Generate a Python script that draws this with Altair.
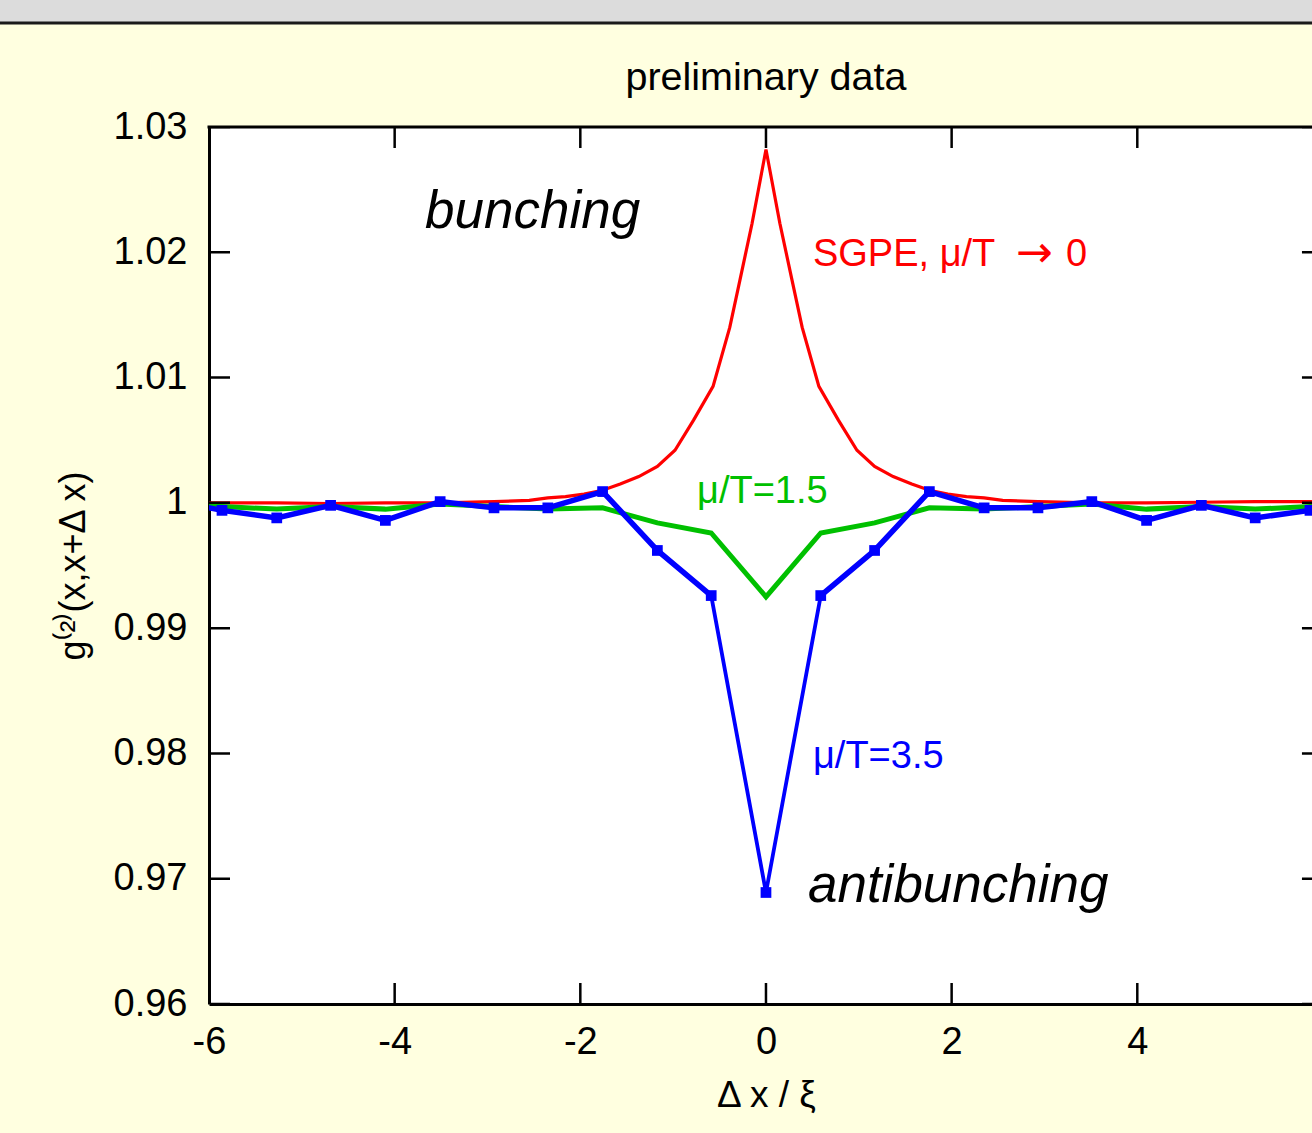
import altair as alt
import pandas as pd

FONT = "Liberation Sans"

# ---------------- data ----------------
x_ticks = [-6, -4, -2, 0, 2, 4, 6]
x_labels = [-6, -4, -2, 0, 2, 4]
y_ticks = [0.96, 0.97, 0.98, 0.99, 1.0, 1.01, 1.02, 1.03]
x_range = [-6, 5.882]
y_range = [0.96, 1.03]
x_full = [-6, 6]

red_x = [-6.0, -5.27, -4.69, -4.10, -3.51, -2.93, -2.55, -2.35, -2.16, -1.96,
         -1.76, -1.57, -1.37, -1.17, -0.98, -0.78, -0.57, -0.39, -0.28, -0.15,
         0.0,
         0.15, 0.28, 0.39, 0.57, 0.78, 0.98, 1.17, 1.37, 1.57, 1.76,
         1.96, 2.16, 2.35, 2.55, 2.93, 3.51, 4.10, 4.69, 5.27, 6.0]
red_y = [1.0000, 1.0000, 0.99995, 1.0000, 1.0000, 1.0001, 1.0002, 1.0004, 1.0005, 1.0007,
         1.0010, 1.0015, 1.0021, 1.0029, 1.0042, 1.0066, 1.0093, 1.0140, 1.0178, 1.0223,
         1.0282,
         1.0223, 1.0178, 1.0140, 1.0093, 1.0066, 1.0042, 1.0029, 1.0021, 1.0015, 1.0010,
         1.0007, 1.0005, 1.0004, 1.0002, 1.0001, 1.0000, 1.0000, 1.00005, 1.0001, 1.0001]

grid_x = [-6.45, -5.86, -5.27, -4.69, -4.10, -3.51, -2.93, -2.35, -1.76, -1.17, -0.59,
          0.0,
          0.59, 1.17, 1.76, 2.35, 2.93, 3.51, 4.10, 4.69, 5.27, 5.86, 6.45]
green_y = [0.9997, 0.9997, 0.9995, 0.9997, 0.9995, 0.9999, 0.9997, 0.9995, 0.9996, 0.9984, 0.9976,
           0.9925,
           0.9976, 0.9984, 0.9996, 0.9995, 0.9997, 0.9999, 0.9995, 0.9997, 0.9995, 0.9997, 0.9997]
blue_y = [1.0003, 0.9994, 0.9988, 0.9998, 0.9986, 1.0001, 0.9996, 0.9996, 1.0009, 0.9962, 0.9926,
          0.9689,
          0.9926, 0.9962, 1.0009, 0.9996, 0.9996, 1.0001, 0.9986, 0.9998, 0.9988, 0.9994, 1.0003]

title_text = ["preliminary data"]
title_x = [0.0]
title_y = [1.03295]

big_text = ["bunching", "antibunching"]
big_x = [-3.673, 0.452]
big_y = [1.0219, 0.96815]

small_text = ["SGPE, μ/T", "0", "μ/T=1.5", "μ/T=3.5"]
small_x = [0.506, 3.232, -0.743, 0.506]
small_y = [1.0189, 1.0189, 0.99995, 0.9788]
small_color = ["#ff0000", "#ff0000", "#00c000", "#0000ff"]

arrow_text = ["→"]
arrow_x = [2.89]
arrow_y = [1.0188]

# ---------------- scales / axes ----------------
xs = alt.Scale(domain=x_range, nice=False, zero=False)
ys = alt.Scale(domain=y_range, nice=False, zero=False)

x_axis = alt.Axis(
    values=x_labels, labelExpr="'' + datum.value", ticks=False, tickSize=0,
    grid=False, domain=True, domainColor="black", domainWidth=3, labelFlush=False,
    labelFont=FONT, labelFontSize=38, labelColor="black", labelPadding=19,
    title="Δ x / ξ", titleFont=FONT, titleFontSize=37, titleFontWeight="normal",
    titleColor="black", titleX=557, titleY=102, titleAlign="center",
    titleBaseline="alphabetic",
)
y_axis = alt.Axis(
    values=y_ticks, labelExpr="'' + datum.value", ticks=False, tickSize=0,
    grid=False, domain=True, domainColor="black", domainWidth=3, labelFlush=False,
    labelFont=FONT, labelFontSize=38, labelColor="black", labelPadding=22,
    labelBaseline="middle",
    title="g⁽²⁾(x,x+Δ x)", titleFont=FONT, titleFontSize=36, titleFontWeight="normal",
    titleColor="black", titleX=-136, titleY=438.5, titleAngle=270,
    titleAlign="center", titleBaseline="middle",
)


def X(field="x"):
    return alt.X(f"{field}:Q", scale=xs, axis=x_axis)


def Y(field="y"):
    return alt.Y(f"{field}:Q", scale=ys, axis=y_axis)


red_df = pd.DataFrame({"x": red_x, "y": red_y})
green_df = pd.DataFrame({"x": grid_x, "y": green_y})
blue_df = pd.DataFrame({"x": grid_x, "y": blue_y})

bottom_ticks = pd.DataFrame({"x": x_ticks, "y": [y_range[0]] * len(x_ticks)})
top_ticks = pd.DataFrame({"x": x_ticks, "y": [y_range[1]] * len(x_ticks)})
left_ticks = pd.DataFrame({"x": [x_full[0]] * len(y_ticks), "y": y_ticks})
right_ticks = pd.DataFrame({"x": [x_full[1]] * len(y_ticks), "y": y_ticks})
top_border = pd.DataFrame({"x": [x_full[0]], "x2": [x_full[1]], "y": [y_range[1]]})

title_df = pd.DataFrame({"x": title_x, "y": title_y, "t": title_text})
big_df = pd.DataFrame({"x": big_x, "y": big_y, "t": big_text})
small_df = pd.DataFrame({"x": small_x, "y": small_y, "t": small_text, "c": small_color})
arrow_df = pd.DataFrame({"x": arrow_x, "y": arrow_y, "t": arrow_text})

# ---------------- layers ----------------
band = alt.Chart(pd.DataFrame({"k": [0]})).mark_rect(color="#dcdcdc", clip=False).encode(
    x=alt.value(-209), x2=alt.value(1103), y=alt.value(-127), y2=alt.value(-105)
)
band_line = alt.Chart(pd.DataFrame({"k": [0]})).mark_rule(color="#1a1a1a", strokeWidth=3, clip=False).encode(
    x=alt.value(-209), x2=alt.value(1103), y=alt.value(-104)
)

red = alt.Chart(red_df).mark_line(color="#ff0000", strokeWidth=3.2, clip=True).encode(x=X(), y=Y())
green = alt.Chart(green_df).mark_line(color="#00c000", strokeWidth=5, clip=True).encode(x=X(), y=Y())

# blue: thick outer branches, thinner central dip
blue_outer = alt.Chart(blue_df).transform_filter(
    "abs(datum.x) >= 0.5"
).transform_calculate(side="datum.x < 0 ? 'L' : 'R'").mark_line(
    color="#0000ff", strokeWidth=5.5, clip=True
).encode(x=X(), y=Y(), detail="side:N")
blue_center = alt.Chart(blue_df).transform_filter(
    "abs(datum.x) <= 0.7"
).mark_line(color="#0000ff", strokeWidth=3.8, clip=True).encode(x=X(), y=Y())
blue_pts = alt.Chart(blue_df).mark_square(color="#0000ff", size=115, opacity=1, clip=True).encode(x=X(), y=Y())

tick_kw = dict(color="black", thickness=2.5, size=42, clip=True, opacity=1)
t_bottom = alt.Chart(bottom_ticks).mark_tick(orient="vertical", **tick_kw).encode(x=X(), y=Y())
t_top = alt.Chart(top_ticks).mark_tick(orient="vertical", **tick_kw).encode(x=X(), y=Y())
t_left = alt.Chart(left_ticks).mark_tick(orient="horizontal", **tick_kw).encode(x=X(), y=Y())
t_right = alt.Chart(right_ticks).mark_tick(orient="horizontal", **tick_kw).encode(x=X(), y=Y())
border = alt.Chart(top_border).mark_rule(color="black", strokeWidth=3, strokeCap="square", clip=False).encode(
    x=X(), x2="x2:Q", y=Y()
)

title = alt.Chart(title_df).mark_text(
    align="center", baseline="alphabetic", font=FONT, fontSize=39.5, color="black", clip=False
).encode(x=X(), y=Y(), text="t:N")
big = alt.Chart(big_df).mark_text(
    align="left", baseline="alphabetic", font=FONT, fontSize=53, fontStyle="italic", color="black"
).encode(x=X(), y=Y(), text="t:N")
small = alt.Chart(small_df).mark_text(
    align="left", baseline="alphabetic", font=FONT, fontSize=38
).encode(x=X(), y=Y(), text="t:N", color=alt.Color("c:N", scale=None))
arrow = alt.Chart(arrow_df).mark_text(
    align="center", baseline="alphabetic", font="DejaVu Sans", fontSize=44, color="#ff0000"
).encode(x=X(), y=Y(), text="t:N")

chart = alt.layer(
    band, band_line, red, green, blue_outer, blue_center, blue_pts,
    t_bottom, t_top, t_left, t_right, border, title, big, small, arrow
).properties(
    width=1103,
    height=877,
    background="#ffffe0",
    autosize=alt.AutoSizeParams(type="none"),
    padding={"left": 209, "top": 127, "right": 0, "bottom": 129},
).configure_view(fill="white", stroke="transparent")

chart.save("out.html", embed_options={"renderer": "svg", "actions": False})
